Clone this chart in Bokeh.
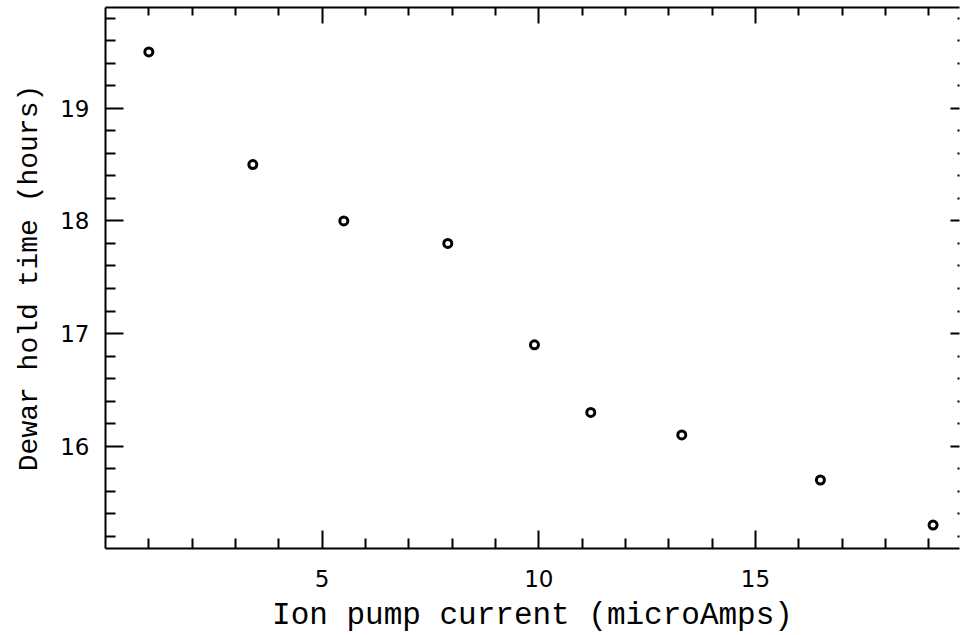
from bokeh.plotting import figure
from bokeh.models import LinearAxis, FixedTicker, Range1d, CustomLabelingPolicy
from bokeh.embed import file_html
from bokeh.resources import INLINE

# Data
current = [1.0, 3.4, 5.5, 7.9, 9.9, 11.2, 13.3, 16.5, 19.1]
hold = [19.5, 18.5, 18.0, 17.8, 16.9, 16.3, 16.1, 15.7, 15.3]

# Tick positions
x_major = [5, 10, 15]
x_minor = [1, 2, 3, 4, 6, 7, 8, 9, 11, 12, 13, 14, 16, 17, 18, 19]
y_major = [16, 17, 18, 19]
y_minor = [15.2, 15.4, 15.6, 15.8, 16.2, 16.4, 16.6, 16.8, 17.2, 17.4, 17.6, 17.8,
           18.2, 18.4, 18.6, 18.8, 19.2, 19.4, 19.6, 19.8]

x_label = "Ion pump current (microAmps)"
y_label = "Dewar hold time (hours)"

p = figure(width=963, height=635,
           x_range=Range1d(0, 19.71), y_range=Range1d(15.092, 19.894),
           output_backend="svg", toolbar_location=None,
           x_axis_location=None, y_axis_location=None,
           min_border_left=105, min_border_right=0,
           min_border_top=7, min_border_bottom=87)
p.outline_line_color = None
p.xgrid.visible = False
p.ygrid.visible = False
p.background_fill_color = "white"
p.border_fill_color = "white"

tick_font = "DejaVu Sans"
label_font = "Liberation Mono"
no_labels = CustomLabelingPolicy(code="return []")


def style(ax, major_in, minor_in, labels=True, label_size="30px"):
    ax.major_tick_in = major_in
    ax.major_tick_out = 0
    ax.minor_tick_in = minor_in
    ax.minor_tick_out = 0
    ax.major_tick_line_width = 2
    ax.minor_tick_line_width = 2
    ax.major_tick_line_color = "black"
    ax.minor_tick_line_color = "black"
    ax.axis_line_width = 2
    ax.axis_line_color = "black"
    ax.axis_label_text_font_style = "normal"
    ax.axis_label_text_color = "black"
    ax.axis_label_text_font = label_font
    ax.axis_label_text_font_size = label_size
    ax.major_label_text_font = tick_font
    ax.major_label_text_color = "black"
    if labels:
        ax.major_label_text_font_size = "23px"
    else:
        ax.major_label_text_font_size = "1px"
        ax.major_label_standoff = 0
        ax.major_label_policy = no_labels


xb = LinearAxis(ticker=FixedTicker(ticks=x_major, minor_ticks=x_minor), axis_label=x_label)
style(xb, 18, 10, label_size="31px")
xb.major_label_standoff = 21
xb.axis_label_standoff = 8
p.add_layout(xb, "below")

xt = LinearAxis(ticker=FixedTicker(ticks=x_major, minor_ticks=x_minor))
style(xt, 16, 8, labels=False)
p.add_layout(xt, "above")

yl = LinearAxis(ticker=FixedTicker(ticks=y_major, minor_ticks=y_minor), axis_label=y_label)
style(yl, 18, 10, label_size="28px")
yl.major_label_standoff = 16
yl.axis_label_standoff = 12
p.add_layout(yl, "left")

yr = LinearAxis(ticker=FixedTicker(ticks=y_major, minor_ticks=y_minor))
style(yr, 9, 2, labels=False)
yr.axis_line_color = None
p.add_layout(yr, "right")

p.scatter(current, hold, marker="circle", size=8, fill_color=None,
          line_color="black", line_width=3)

open("out.html", "w").write(file_html(p, INLINE))
